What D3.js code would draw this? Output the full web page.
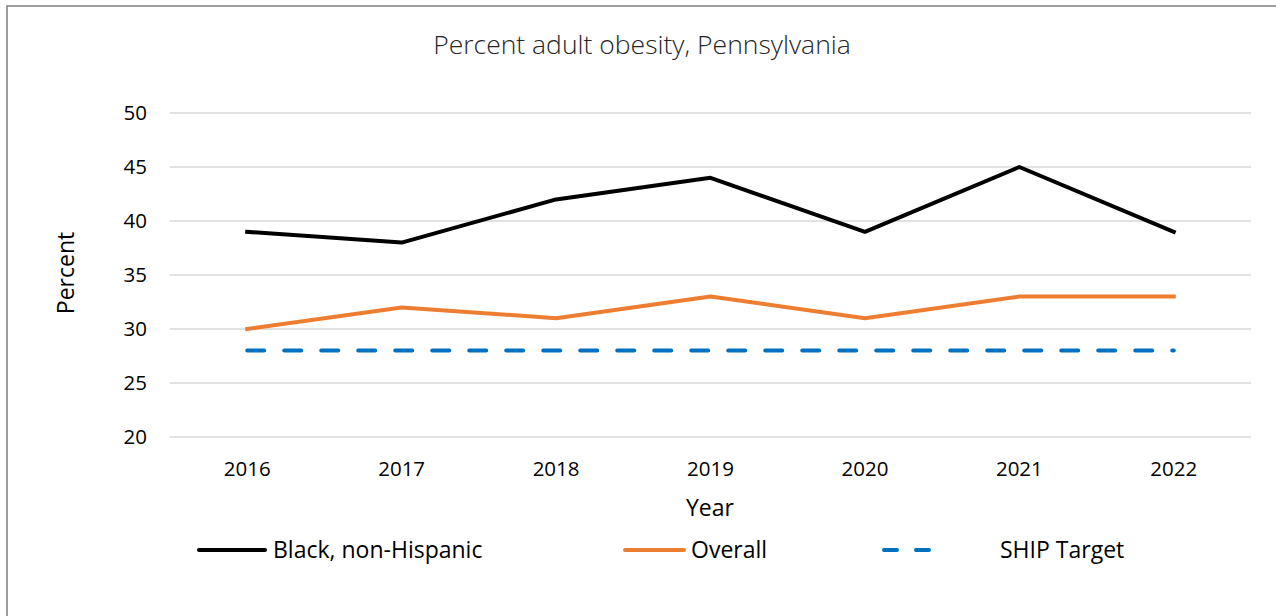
<!DOCTYPE html>
<html>
<head>
<meta charset="utf-8">
<script src="https://cdn.jsdelivr.net/npm/d3@7"></script>
<style>
  body { margin: 0; background: #fff; }
  svg { display: block; font-family: "Open Sans", "Noto Sans", sans-serif; }
</style>
</head>
<body>
<svg id="chart" width="1276" height="616"></svg>
<script>
const years = ["2016", "2017", "2018", "2019", "2020", "2021", "2022"];
const blackNonHispanic = [39, 38, 42, 44, 39, 45, 39];
const overall = [30, 32, 31, 33, 31, 33, 33];
const shipTarget = [28, 28, 28, 28, 28, 28, 28];
const yTicks = [20, 25, 30, 35, 40, 45, 50];

const svg = d3.select("#chart");

// chart frame
svg.append("rect")
    .attr("x", 7).attr("y", 6)
    .attr("width", 1290).attr("height", 630)
    .attr("fill", "none")
    .attr("stroke", "#7f7f7f")
    .attr("stroke-width", 1.5);

const plot = { left: 170, right: 1251, top: 113, bottom: 437 };

const x = d3.scalePoint()
    .domain(years)
    .range([plot.left, plot.right])
    .padding(0.5);

const y = d3.scaleLinear()
    .domain([20, 50])
    .range([plot.bottom, plot.top]);

// gridlines
svg.append("g")
    .selectAll("line")
    .data(yTicks)
    .enter()
    .append("line")
    .attr("x1", plot.left).attr("x2", plot.right)
    .attr("y1", d => y(d)).attr("y2", d => y(d))
    .attr("stroke", "#d9d9d9")
    .attr("stroke-width", 1.5);

// y tick labels
svg.append("g")
    .selectAll("text")
    .data(yTicks)
    .enter()
    .append("text")
    .attr("x", 147)
    .attr("y", d => y(d))
    .attr("dy", "0.35em")
    .attr("text-anchor", "end")
    .style("font-size", "20.5px")
    .attr("fill", "#000")
    .text(d => d);

// x tick labels
svg.append("g")
    .selectAll("text")
    .data(years)
    .enter()
    .append("text")
    .attr("x", d => x(d))
    .attr("y", 469)
    .attr("dy", "0.35em")
    .attr("text-anchor", "middle")
    .style("font-size", "20.5px")
    .attr("fill", "#000")
    .text(d => d);

// titles
svg.append("text")
    .attr("x", 642).attr("y", 45)
    .attr("dy", "0.35em")
    .attr("text-anchor", "middle")
    .style("font-size", "26.5px")
    .style("font-weight", "300")
    .attr("fill", "#262626")
    .text("Percent adult obesity, Pennsylvania");

svg.append("text")
    .attr("x", 710).attr("y", 508)
    .attr("dy", "0.35em")
    .attr("text-anchor", "middle")
    .style("font-size", "23px")
    .attr("fill", "#000")
    .text("Year");

svg.append("text")
    .attr("transform", "translate(66,273) rotate(-90)")
    .attr("dy", "0.35em")
    .attr("text-anchor", "middle")
    .style("font-size", "23px")
    .attr("fill", "#000")
    .text("Percent");

const line = d3.line()
    .x((d, i) => x(years[i]))
    .y(d => y(d));

const series = [
    { name: "Black, non-Hispanic", values: blackNonHispanic, color: "#000000", dash: null },
    { name: "Overall", values: overall, color: "#ed7d31", dash: null },
    { name: "SHIP Target", values: shipTarget, color: "#0070c0", dash: "17,20" }
];

series.forEach(s => {
    svg.append("path")
        .datum(s.values)
        .attr("d", line)
        .attr("fill", "none")
        .attr("stroke", s.color)
        .attr("stroke-width", 4)
        .attr("stroke-linejoin", "round")
        .attr("stroke-linecap", s.dash ? "round" : "square")
        .attr("stroke-dasharray", s.dash);
});

// legend
const legendItems = [
    { x1: 199, x2: 265, tx: 273 },
    { x1: 625, x2: 684, tx: 691 },
    { x1: 884, x2: 931, tx: 1000 }
];
const legendY = 550;
series.forEach((s, i) => {
    const li = legendItems[i];
    svg.append("line")
        .attr("x1", li.x1).attr("x2", li.x2)
        .attr("y1", legendY).attr("y2", legendY)
        .attr("stroke", s.color)
        .attr("stroke-width", 4)
        .attr("stroke-linecap", "round")
        .attr("stroke-dasharray", s.dash ? "13,19" : null);
    svg.append("text")
        .attr("x", li.tx).attr("y", legendY)
        .attr("dy", "0.35em")
        .style("font-size", "23px")
        .attr("fill", "#000")
        .text(s.name);
});
</script>
</body>
</html>
